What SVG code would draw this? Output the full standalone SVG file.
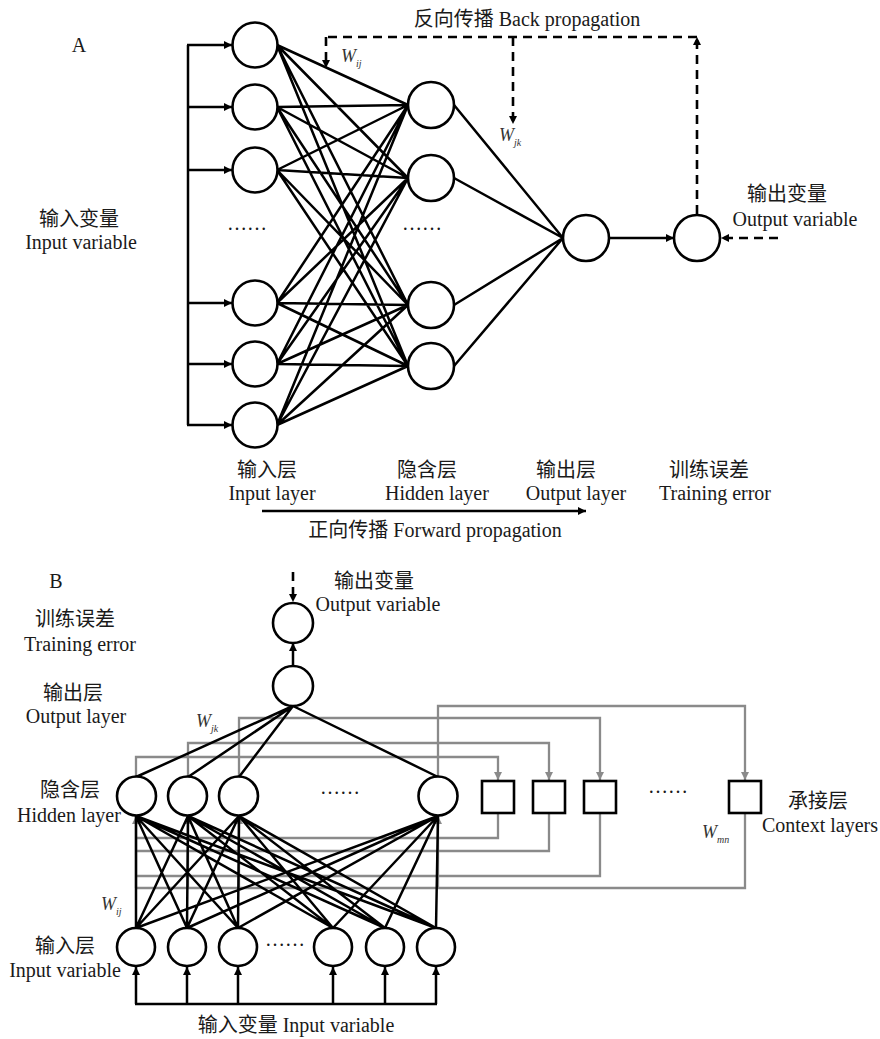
<svg xmlns="http://www.w3.org/2000/svg" width="880" height="1039" viewBox="0 0 880 1039">
<style>
.n{fill:#fff;stroke:#000;stroke-width:2.6}
.e{stroke:#000;stroke-width:2.5;fill:none}
.g{stroke:#8a8a8a;stroke-width:2.3;fill:none}
.d{stroke:#000;stroke-width:2.6;stroke-dasharray:9 6;fill:none}
.t{font-family:"Liberation Serif","Noto Sans CJK SC",serif;font-size:20px;fill:#1a1a1a;text-anchor:middle}
.w{font-family:"Liberation Serif",serif;font-style:italic;font-size:18px;fill:#333}
</style>
<defs>
<marker id="ah" viewBox="0 0 10 10" refX="10" refY="5" markerWidth="9" markerHeight="8" markerUnits="userSpaceOnUse" orient="auto"><path d="M0,0 L10,5 L0,10 z" fill="#000"/></marker>
<marker id="ag" viewBox="0 0 10 10" refX="10" refY="5" markerWidth="9" markerHeight="8" markerUnits="userSpaceOnUse" orient="auto"><path d="M0,0 L10,5 L0,10 z" fill="#8a8a8a"/></marker>
</defs>
<rect width="880" height="1039" fill="#fff"/>

<g id="connectors">
<line class="e" x1="188" y1="45" x2="188" y2="425"/>
<line class="e" x1="187" y1="45" x2="232" y2="45" marker-end="url(#ah)"/>
<line class="e" x1="188" y1="107" x2="232" y2="107" marker-end="url(#ah)"/>
<line class="e" x1="188" y1="170" x2="232" y2="170" marker-end="url(#ah)"/>
<line class="e" x1="188" y1="303" x2="232" y2="303" marker-end="url(#ah)"/>
<line class="e" x1="188" y1="364" x2="232" y2="364" marker-end="url(#ah)"/>
<line class="e" x1="187" y1="425" x2="232" y2="425" marker-end="url(#ah)"/>
<path class="e" d="M277,45 L408,105 M277,45 L408,178 M277,45 L408,305 M277,45 L408,366
M277,107 L408,105 M277,107 L408,178 M277,107 L408,305 M277,107 L408,366
M277,170 L408,105 M277,170 L408,178 M277,170 L408,305 M277,170 L408,366
M277,303 L408,105 M277,303 L408,178 M277,303 L408,305 M277,303 L408,366
M277,364 L408,105 M277,364 L408,178 M277,364 L408,305 M277,364 L408,366
M277,425 L408,105 M277,425 L408,178 M277,425 L408,305 M277,425 L408,366"/>
<path class="e" d="M454,105 L563,238 M454,178 L563,238 M454,305 L563,238 M454,366 L563,238"/>
<line class="e" x1="609" y1="238" x2="674" y2="238" marker-end="url(#ah)"/>
<line class="d" x1="697" y1="214" x2="697" y2="37" marker-end="url(#ah)"/>
<line class="d" x1="697" y1="37" x2="326" y2="37"/>
<line class="d" x1="326" y1="37" x2="326" y2="68" marker-end="url(#ah)"/>
<line class="d" x1="513" y1="37" x2="513" y2="124" marker-end="url(#ah)"/>
<line class="d" x1="778" y1="238" x2="721" y2="238" marker-end="url(#ah)"/>
<line class="e" x1="262" y1="511" x2="586" y2="511" marker-end="url(#ah)"/>

<path class="g" d="M136,776 V757 H498 V780" marker-end="url(#ag)"/>
<path class="g" d="M188,776 V743 H549 V780" marker-end="url(#ag)"/>
<path class="g" d="M239,776 V718 H600 V780" marker-end="url(#ag)"/>
<path class="g" d="M438,776 V706 H745 V780" marker-end="url(#ag)"/>
<path class="g" d="M498,813 V838 H136"/>
<path class="g" d="M549,813 V851 H136"/>
<path class="g" d="M600,813 V876 H136"/>
<path class="g" d="M745,813 V888 H136"/>
<line class="g" x1="136" y1="888" x2="136" y2="816" marker-end="url(#ag)"/>
<line class="g" x1="188" y1="888" x2="188" y2="816" marker-end="url(#ag)"/>
<line class="g" x1="239" y1="888" x2="239" y2="816" marker-end="url(#ag)"/>
<line class="g" x1="438" y1="888" x2="438" y2="816" marker-end="url(#ag)"/>
<path class="e" d="M136,928 L136,816 M136,928 L188,816 M136,928 L239,816 M136,928 L438,816
M187,928 L136,816 M187,928 L188,816 M187,928 L239,816 M187,928 L438,816
M238,928 L136,816 M238,928 L188,816 M238,928 L239,816 M238,928 L438,816
M333,928 L136,816 M333,928 L188,816 M333,928 L239,816 M333,928 L438,816
M385,928 L136,816 M385,928 L188,816 M385,928 L239,816 M385,928 L438,816
M436,928 L136,816 M436,928 L188,816 M436,928 L239,816 M436,928 L438,816"/>
<path class="e" d="M136,777 L293,706 M188,777 L293,706 M239,777 L293,706 M438,777 L293,706"/>
<line class="e" x1="293" y1="666" x2="293" y2="643" marker-end="url(#ah)"/>
<line class="d" x1="293" y1="572" x2="293" y2="602" stroke-width="2" marker-end="url(#ah)"/>
<line class="e" x1="135" y1="1004" x2="437" y2="1004"/>
<line class="e" x1="136" y1="1004" x2="136" y2="967" marker-end="url(#ah)"/>
<line class="e" x1="187" y1="1004" x2="187" y2="967" marker-end="url(#ah)"/>
<line class="e" x1="238" y1="1004" x2="238" y2="967" marker-end="url(#ah)"/>
<line class="e" x1="333" y1="1004" x2="333" y2="967" marker-end="url(#ah)"/>
<line class="e" x1="385" y1="1004" x2="385" y2="967" marker-end="url(#ah)"/>
<line class="e" x1="436" y1="1004" x2="436" y2="967" marker-end="url(#ah)"/>
</g>

<g id="a-in1"><circle class="n" cx="255" cy="45" r="22.5"/></g>
<g id="a-in2"><circle class="n" cx="255" cy="107" r="22.5"/></g>
<g id="a-in3"><circle class="n" cx="255" cy="170" r="22.5"/></g>
<g id="a-in4"><circle class="n" cx="255" cy="303" r="22.5"/></g>
<g id="a-in5"><circle class="n" cx="255" cy="364" r="22.5"/></g>
<g id="a-in6"><circle class="n" cx="255" cy="425" r="22.5"/></g>
<g id="a-h1"><circle class="n" cx="431" cy="105" r="23"/></g>
<g id="a-h2"><circle class="n" cx="431" cy="178" r="23"/></g>
<g id="a-h3"><circle class="n" cx="431" cy="305" r="23"/></g>
<g id="a-h4"><circle class="n" cx="431" cy="366" r="23"/></g>
<g id="a-out"><circle class="n" cx="586" cy="238" r="23"/></g>
<g id="a-err"><circle class="n" cx="697" cy="238" r="23"/></g>

<g id="b-err"><circle class="n" cx="293" cy="623" r="20"/></g>
<g id="b-out"><circle class="n" cx="293" cy="686" r="20"/></g>
<g id="b-h1"><circle class="n" cx="136.5" cy="796" r="19.5"/></g>
<g id="b-h2"><circle class="n" cx="187.5" cy="796" r="19.5"/></g>
<g id="b-h3"><circle class="n" cx="238.5" cy="796" r="19.5"/></g>
<g id="b-h4"><circle class="n" cx="438" cy="796" r="19.5"/></g>
<g id="b-c1"><rect class="n" x="482" y="781" width="32" height="32"/></g>
<g id="b-c2"><rect class="n" x="533" y="781" width="32" height="32"/></g>
<g id="b-c3"><rect class="n" x="584" y="781" width="32" height="32"/></g>
<g id="b-c4"><rect class="n" x="729" y="781" width="32" height="32"/></g>
<g id="b-in1"><circle class="n" cx="136" cy="947" r="19"/></g>
<g id="b-in2"><circle class="n" cx="187" cy="947" r="19"/></g>
<g id="b-in3"><circle class="n" cx="238" cy="947" r="19"/></g>
<g id="b-in4"><circle class="n" cx="333" cy="947" r="19"/></g>
<g id="b-in5"><circle class="n" cx="385" cy="947" r="19"/></g>
<g id="b-in6"><circle class="n" cx="436" cy="947" r="19"/></g>

<g id="a-labels">
<text class="t" x="79" y="52" font-size="18">A</text>
<text class="t" x="527" y="26">反向传播 Back propagation</text>
<text class="w" x="341" y="62">W<tspan font-size="10" dy="5">ij</tspan></text>
<text class="w" x="499" y="141">W<tspan font-size="10" dy="5">jk</tspan></text>
<text class="t" x="787" y="201">输出变量</text>
<text class="t" x="795" y="226">Output variable</text>
<text class="t" x="79" y="226">输入变量</text>
<text class="t" x="81" y="249">Input variable</text>
<text class="t" x="247" y="230" font-size="18">……</text>
<text class="t" x="422" y="230" font-size="18">……</text>
<text class="t" x="267" y="477">输入层</text>
<text class="t" x="272" y="500">Input layer</text>
<text class="t" x="427" y="477">隐含层</text>
<text class="t" x="437" y="500">Hidden layer</text>
<text class="t" x="566" y="477">输出层</text>
<text class="t" x="576" y="500">Output layer</text>
<text class="t" x="709" y="477">训练误差</text>
<text class="t" x="715" y="500">Training error</text>
<text class="t" x="435" y="537">正向传播  Forward propagation</text>
</g>

<g id="b-labels">
<text class="t" x="56" y="588" font-size="18">B</text>
<text class="t" x="75" y="626">训练误差</text>
<text class="t" x="80" y="651">Training error</text>
<text class="t" x="73" y="700">输出层</text>
<text class="t" x="76" y="723">Output layer</text>
<text class="t" x="70" y="797">隐含层</text>
<text class="t" x="69" y="822">Hidden layer</text>
<text class="t" x="65" y="953">输入层</text>
<text class="t" x="65" y="977">Input variable</text>
<text class="w" x="101" y="910">W<tspan font-size="10" dy="5">ij</tspan></text>
<text class="w" x="196" y="727">W<tspan font-size="10" dy="5">jk</tspan></text>
<text class="w" x="702" y="838">W<tspan font-size="10" dy="5">mn</tspan></text>
<text class="t" x="374" y="588">输出变量</text>
<text class="t" x="378" y="611">Output variable</text>
<text class="t" x="818" y="808">承接层</text>
<text class="t" x="820" y="832">Context layers</text>
<text class="t" x="340" y="794" font-size="18">……</text>
<text class="t" x="668" y="793" font-size="18">……</text>
<text class="t" x="285" y="946" font-size="18">……</text>
<text class="t" x="296" y="1032">输入变量 Input variable</text>
</g>
</svg>
